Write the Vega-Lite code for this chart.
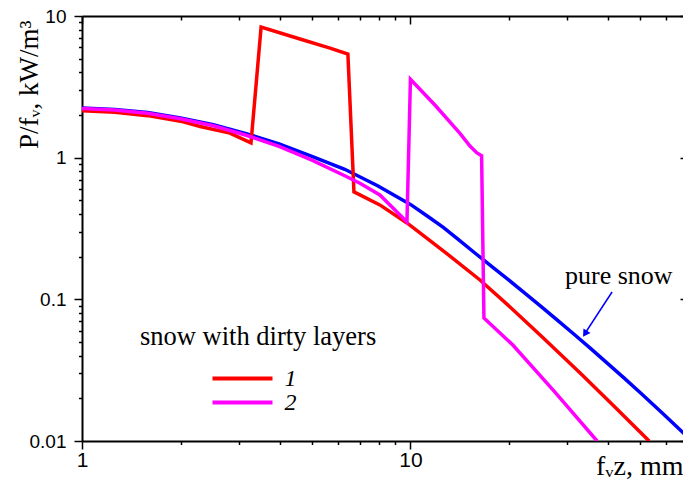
{
  "$schema": "https://vega.github.io/schema/vega-lite/v6.json",
  "width": 606,
  "height": 425,
  "autosize": {"type": "none"},
  "padding": {"left": 82, "top": 16, "right": -5, "bottom": 46},
  "background": "white",
  "config": {"view": {"stroke": null}, "font": "Liberation Sans"},
  "data": {
    "values": [
      {"series": "pure snow", "x": 1, "y": 2.244},
      {"series": "pure snow", "x": 1.259, "y": 2.19},
      {"series": "pure snow", "x": 1.585, "y": 2.08},
      {"series": "pure snow", "x": 1.995, "y": 1.905},
      {"series": "pure snow", "x": 2.512, "y": 1.706},
      {"series": "pure snow", "x": 3.162, "y": 1.479},
      {"series": "pure snow", "x": 3.981, "y": 1.253},
      {"series": "pure snow", "x": 5.012, "y": 1.023},
      {"series": "pure snow", "x": 6.31, "y": 0.828},
      {"series": "pure snow", "x": 7.943, "y": 0.634},
      {"series": "pure snow", "x": 10, "y": 0.468},
      {"series": "pure snow", "x": 11.22, "y": 0.389},
      {"series": "pure snow", "x": 12.59, "y": 0.322},
      {"series": "pure snow", "x": 14.13, "y": 0.26},
      {"series": "pure snow", "x": 15.85, "y": 0.209},
      {"series": "pure snow", "x": 17.78, "y": 0.169},
      {"series": "pure snow", "x": 19.95, "y": 0.1365},
      {"series": "pure snow", "x": 22.39, "y": 0.1096},
      {"series": "pure snow", "x": 25.12, "y": 0.0881},
      {"series": "pure snow", "x": 28.18, "y": 0.0705},
      {"series": "pure snow", "x": 31.62, "y": 0.0562},
      {"series": "pure snow", "x": 35.48, "y": 0.0447},
      {"series": "pure snow", "x": 39.81, "y": 0.0353},
      {"series": "pure snow", "x": 44.67, "y": 0.0279},
      {"series": "pure snow", "x": 50.12, "y": 0.0219},
      {"series": "pure snow", "x": 58.88, "y": 0.0155},
      {"series": "pure snow", "x": 70, "y": 0.0106},
      {"series": "1", "x": 1, "y": 2.14},
      {"series": "1", "x": 1.259, "y": 2.09},
      {"series": "1", "x": 1.585, "y": 1.98},
      {"series": "1", "x": 1.995, "y": 1.81},
      {"series": "1", "x": 2.29, "y": 1.66},
      {"series": "1", "x": 2.82, "y": 1.49},
      {"series": "1", "x": 3.27, "y": 1.27},
      {"series": "1", "x": 3.51, "y": 8.36},
      {"series": "1", "x": 4.61, "y": 6.88},
      {"series": "1", "x": 5.69, "y": 5.94},
      {"series": "1", "x": 6.45, "y": 5.39},
      {"series": "1", "x": 6.73, "y": 0.573},
      {"series": "1", "x": 8.07, "y": 0.464},
      {"series": "1", "x": 9.76, "y": 0.346},
      {"series": "1", "x": 12.56, "y": 0.221},
      {"series": "1", "x": 16.28, "y": 0.137},
      {"series": "1", "x": 20.1, "y": 0.0883},
      {"series": "1", "x": 25.1, "y": 0.0546},
      {"series": "1", "x": 32.8, "y": 0.0303},
      {"series": "1", "x": 41.7, "y": 0.0176},
      {"series": "1", "x": 53.3, "y": 0.01},
      {"series": "2", "x": 1, "y": 2.22},
      {"series": "2", "x": 1.259, "y": 2.17},
      {"series": "2", "x": 1.585, "y": 2.06},
      {"series": "2", "x": 1.995, "y": 1.88},
      {"series": "2", "x": 2.512, "y": 1.68},
      {"series": "2", "x": 3.162, "y": 1.44},
      {"series": "2", "x": 3.981, "y": 1.2},
      {"series": "2", "x": 5.012, "y": 0.96},
      {"series": "2", "x": 6.31, "y": 0.745},
      {"series": "2", "x": 7.02, "y": 0.66},
      {"series": "2", "x": 8.07, "y": 0.546},
      {"series": "2", "x": 9.76, "y": 0.352},
      {"series": "2", "x": 10.0, "y": 3.57},
      {"series": "2", "x": 11.87, "y": 2.355},
      {"series": "2", "x": 14.15, "y": 1.486},
      {"series": "2", "x": 15.18, "y": 1.209},
      {"series": "2", "x": 15.91, "y": 1.084},
      {"series": "2", "x": 16.47, "y": 1.032},
      {"series": "2", "x": 16.74, "y": 0.0739},
      {"series": "2", "x": 20.5, "y": 0.0476},
      {"series": "2", "x": 27.5, "y": 0.0222},
      {"series": "2", "x": 37.0, "y": 0.01}
    ]
  },
  "layer": [
    {
      "mark": {"type": "line", "strokeWidth": 3.5, "clip": true},
      "encoding": {
        "x": {
          "field": "x", "type": "quantitative",
          "scale": {"type": "log", "domain": [1, 70], "nice": false},
          "axis": {
            "orient": "bottom",
            "values": [1, 2, 3, 4, 5, 6, 7, 8, 9, 10, 20, 30, 40, 50, 60, 70],
            "labelExpr": "datum.value == 1 ? '1' : datum.value == 10 ? '10' : ''",
            "labelFlush": false, "labelOverlap": false,
            "labelFont": "Liberation Sans", "labelFontSize": 21, "labelColor": "black", "labelPadding": 0,
            "tickSize": {"condition": {"test": "datum.value == 1 || datum.value == 10", "value": 8}, "value": 3.5},
            "tickColor": "black", "tickWidth": 1.5,
            "domainColor": "black", "domainWidth": 2, "grid": false,
            "title": "fᵥz, mm",
            "titleFont": "Liberation Serif", "titleFontSize": 28, "titleFontWeight": "normal", "titleColor": "black",
            "titleX": 601, "titleY": 33, "titleAlign": "right", "titleBaseline": "alphabetic", "titleAnchor": "end"
          }
        },
        "y": {
          "field": "y", "type": "quantitative",
          "scale": {"type": "log", "domain": [0.01, 10], "nice": false},
          "axis": {
            "orient": "left",
            "values": [0.01, 0.02, 0.03, 0.04, 0.05, 0.06, 0.07, 0.08, 0.09, 0.1, 0.2, 0.3, 0.4, 0.5, 0.6, 0.7, 0.8, 0.9, 1, 2, 3, 4, 5, 6, 7, 8, 9, 10],
            "labelExpr": "datum.value == 0.01 ? '0.01' : datum.value == 0.1 ? '0.1' : datum.value == 1 ? '1' : datum.value == 10 ? '10' : ''",
            "labelOverlap": false, "labelFlush": false,
            "labelFont": "Liberation Sans", "labelFontSize": 19, "labelColor": "black", "labelPadding": 8,
            "tickSize": {"condition": {"test": "datum.value == 0.01 || datum.value == 0.1 || datum.value == 1 || datum.value == 10", "value": 8}, "value": 3.5},
            "tickColor": "black", "tickWidth": 1.5,
            "domainColor": "black", "domainWidth": 2, "grid": false,
            "title": "P/fᵥ, kW/m³",
            "titleFont": "Liberation Serif", "titleFontSize": 27, "titleFontWeight": "normal", "titleColor": "black",
            "titleAngle": -90, "titleX": -45, "titleY": 4, "titleAlign": "right", "titleBaseline": "alphabetic"
          }
        },
        "color": {
          "field": "series", "type": "nominal",
          "scale": {"domain": ["pure snow", "1", "2"], "range": ["#0000ff", "#ff0000", "#ff00ff"]},
          "legend": {
            "orient": "none", "legendX": 58, "legendY": 308, "padding": 0,
            "values": ["1", "2"],
            "title": "snow with dirty layers", "titleLimit": 500,
            "titleFont": "Liberation Serif", "titleFontSize": 26.5, "titleFontWeight": "normal", "titleColor": "black",
            "titlePadding": 16,
            "symbolType": "M-5,0H5", "symbolSize": 144, "symbolStrokeWidth": 4, "symbolOffset": 90.5,
            "labelFont": "Liberation Serif", "labelFontStyle": "italic", "labelFontSize": 24, "labelColor": "black",
            "labelOffset": 30, "rowPadding": -1
          }
        }
      }
    },
    {
      "data": {"values": [{"note": "arrow"}]},
      "mark": {"type": "rule", "color": "#0000ff", "strokeWidth": 1.5},
      "encoding": {
        "x": {
          "datum": 41.1, "type": "quantitative",
          "axis": {
            "orient": "top",
            "values": [1, 2, 3, 4, 5, 6, 7, 8, 9, 10, 20, 30, 40, 50, 60, 70],
            "labels": false, "title": null, "grid": false,
            "tickSize": {"condition": {"test": "datum.value == 1 || datum.value == 10", "value": -8}, "value": -4},
            "tickColor": "black", "tickWidth": 1.5,
            "domainColor": "black", "domainWidth": 2
          }
        },
        "y": {
          "datum": 0.1127, "type": "quantitative",
          "axis": {
            "orient": "right",
            "values": [0.01, 0.02, 0.03, 0.04, 0.05, 0.06, 0.07, 0.08, 0.09, 0.1, 0.2, 0.3, 0.4, 0.5, 0.6, 0.7, 0.8, 0.9, 1, 2, 3, 4, 5, 6, 7, 8, 9, 10],
            "labels": false, "title": null, "grid": false,
            "tickSize": {"condition": {"test": "datum.value == 0.01 || datum.value == 0.1 || datum.value == 1 || datum.value == 10", "value": -8}, "value": -4},
            "tickColor": "black", "tickWidth": 1.5,
            "domainColor": "black", "domainWidth": 2
          }
        },
        "x2": {"datum": 34.1},
        "y2": {"datum": 0.0581}
      }
    },
    {
      "data": {"values": [{"note": "arrowhead"}]},
      "mark": {"type": "point", "shape": "triangle-up", "filled": true, "color": "#0000ff", "size": 70, "angle": 213, "opacity": 1},
      "encoding": {
        "x": {"datum": 34.0, "type": "quantitative", "axis": null},
        "y": {"datum": 0.0572, "type": "quantitative", "axis": null}
      }
    },
    {
      "data": {"values": [{"note": "pure snow"}]},
      "mark": {"type": "text", "font": "Liberation Serif", "fontSize": 26, "color": "black", "align": "center", "baseline": "alphabetic"},
      "encoding": {
        "x": {"datum": 43.1, "type": "quantitative", "axis": null},
        "y": {"datum": 0.1285, "type": "quantitative", "axis": null},
        "text": {"field": "note"}
      }
    }
  ],
  "resolve": {"axis": {"x": "independent", "y": "independent"}}
}
